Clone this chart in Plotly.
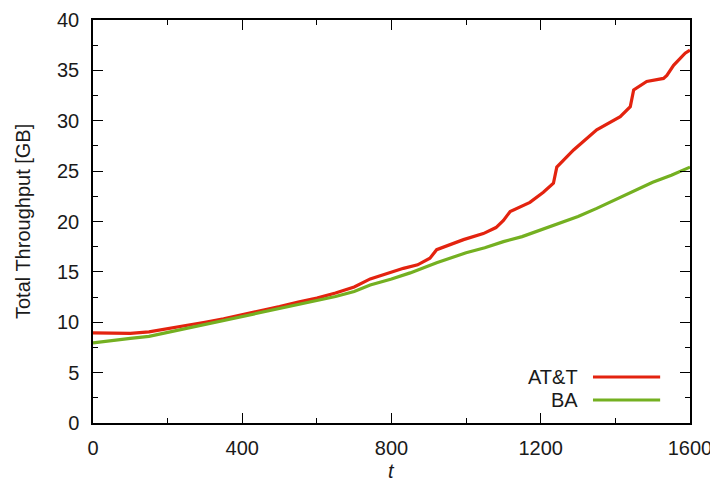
import plotly.graph_objects as go

# AT&T series (t, total throughput in GB)
att_t = [0, 50, 100, 150, 200, 250, 300, 350, 400, 450, 500, 550, 600, 650, 700, 743,
         800, 832, 870, 903, 921, 950, 993, 1046, 1080, 1100, 1118, 1171, 1207, 1234,
         1243, 1288, 1350, 1413, 1440, 1449, 1484, 1529, 1538, 1556, 1587, 1600]
att_v = [8.95, 8.9, 8.9, 9.05, 9.35, 9.65, 10.0, 10.35, 10.75, 11.1, 11.55, 12.0, 12.4,
         12.9, 13.5, 14.3, 15.0, 15.35, 15.7, 16.35, 17.2, 17.6, 18.2, 18.8, 19.4, 20.1,
         21.0, 21.9, 22.9, 23.8, 25.4, 27.1, 29.1, 30.4, 31.4, 33.05, 33.9, 34.2, 34.5,
         35.5, 36.7, 37.0]

# BA series
ba_t = [0, 50, 100, 150, 200, 250, 300, 350, 400, 450, 500, 550, 600, 650, 700, 743,
        800, 850, 921, 1000, 1050, 1100, 1150, 1225, 1261, 1300, 1350, 1413, 1450, 1500,
        1550, 1600]
ba_v = [7.95, 8.2, 8.4, 8.6, 9.0, 9.4, 9.8, 10.2, 10.6, 11.0, 11.35, 11.75, 12.15, 12.55,
        13.05, 13.7, 14.3, 14.9, 15.9, 16.9, 17.4, 18.0, 18.5, 19.5, 20.0, 20.5, 21.3,
        22.4, 23.1, 23.9, 24.6, 25.4]

x_ticks = [0, 400, 800, 1200, 1600]
y_ticks = [0, 5, 10, 15, 20, 25, 30, 35, 40]

RED = "#e3230f"
GREEN = "#74b021"
FONT = "Liberation Sans, Arial, sans-serif"
TXT = "#1a1a1a"

fig = go.Figure()
fig.add_trace(go.Scatter(x=att_t, y=att_v, mode="lines", name="AT&T",
                         line=dict(color=RED, width=3.2), showlegend=False))
fig.add_trace(go.Scatter(x=ba_t, y=ba_v, mode="lines", name="BA",
                         line=dict(color=GREEN, width=3.2), showlegend=False))

axis_common = dict(showline=True, linecolor="black", linewidth=1.5, mirror="allticks",
                   ticks="inside", ticklen=10, tickwidth=1.3, tickcolor="black",
                   showgrid=False, zeroline=False, automargin=False,
                   tickfont=dict(family=FONT, size=20, color=TXT))

fig.update_xaxes(range=[0, 1600], tickvals=x_ticks, ticklabelstandoff=6,
                 minor=dict(ticks="inside", ticklen=5, tickwidth=1.3, dtick=200,
                            tickcolor="black", showgrid=False),
                 **axis_common)
fig.update_yaxes(range=[0, 40], tickvals=y_ticks, ticklabelstandoff=8,
                 minor=dict(ticks="inside", ticklen=5, tickwidth=1.3, dtick=2.5,
                            tickcolor="black", showgrid=False),
                 **axis_common)

# Axis titles as annotations for exact placement
fig.add_annotation(xref="paper", yref="paper", x=0.5, y=-0.12, text="<i>t</i>",
                   showarrow=False, xanchor="center", yanchor="middle",
                   font=dict(family=FONT, size=20, color=TXT))
fig.add_annotation(xref="paper", yref="paper", x=-0.118, y=0.5,
                   text="Total Throughput [GB]", textangle=-90,
                   showarrow=False, xanchor="center", yanchor="middle",
                   font=dict(family=FONT, size=20, color=TXT))

# Manual legend (text left of line sample, gnuplot style)
legend_items = [("AT&T", RED, 0.114), ("BA", GREEN, 0.057)]
for label, color, yy in legend_items:
    fig.add_annotation(xref="paper", yref="paper", x=0.815, y=yy, text=label,
                       showarrow=False, xanchor="right", yanchor="middle",
                       font=dict(family=FONT, size=20, color=TXT))
    fig.add_shape(type="line", xref="paper", yref="paper", x0=0.8375, x1=0.95,
                  y0=yy, y1=yy, line=dict(color=color, width=3))

# page body has an 8px default margin; size the figure to fit the window
fig.update_layout(width=710, height=487, plot_bgcolor="white", paper_bgcolor="white",
                  margin=dict(l=85, r=28, t=12, b=72))

fig.write_html("out.html")
